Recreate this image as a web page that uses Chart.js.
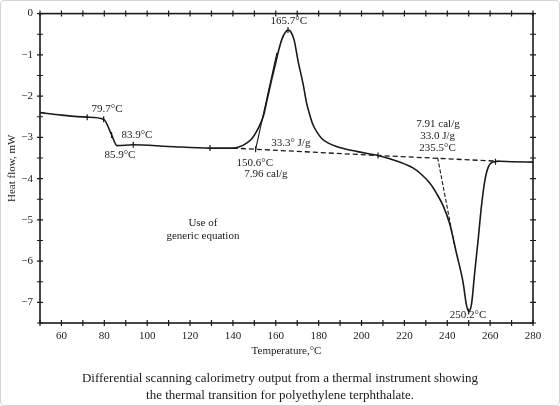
<!DOCTYPE html>
<html lang="en">
<head>
  <meta charset="UTF-8">
  <title>DSC output</title>
  <script src="https://cdn.jsdelivr.net/npm/chart.js"></script>
  <style>
    body {
      margin: 0;
      background: #fff;
    }
    .wrap {
      position: relative;
      width: 560px;
      height: 406px;
    }
    .frame {
      position: absolute;
      left: 0; top: 0;
      width: 558px; height: 404px;
      border: 1px solid #d4d4d4;
      border-radius: 4px;
      pointer-events: none;
    }
    canvas {
      position: absolute;
      left: 0; top: 0;
    }
    .caption {
      position: absolute;
      left: 0; width: 560px;
      top: 369px;
      text-align: center;
      font-family: "Liberation Serif", "DejaVu Serif", serif;
      font-size: 13px;
      line-height: 17px;
      color: #1a1a1a;
    }
  </style>
</head>
<body>
  <div class="wrap">
    <canvas id="chart" width="560" height="406"></canvas>
    <div class="caption">
      Differential scanning calorimetry output from a thermal instrument showing<br>
      the thermal transition for polyethylene terphthalate.
    </div>
    <div class="frame"></div>
  </div>

  <script>
    // DSC trace: temperature (°C) vs heat flow (mW)
    const curveT = [50, 60, 72, 79.7, 83.4, 85.9, 93.5, 110, 129.3, 140, 143, 146.4, 149, 151, 153, 154.4,
      156, 158, 160.3, 161.5, 163, 164.5, 165.7, 167, 168.6, 170.4, 172.8, 174.3, 176, 177.4, 179.3, 181.3,
      184.5, 188.3, 197.6, 207.7, 217.8, 224, 228, 232, 235, 238, 241.1, 244.3, 247.4, 248.9,
      250.0, 251.3, 252.8, 254.4, 255.9, 257.5, 259.0, 261.3, 264.5, 270, 280];
    const curveHF = [-2.40, -2.46, -2.51, -2.56, -2.94, -3.20, -3.18, -3.22, -3.26, -3.26, -3.23, -3.14,
      -3.02, -2.86, -2.65, -2.45, -2.08, -1.62, -1.12, -0.86, -0.60, -0.45, -0.40, -0.44, -0.65, -1.15,
      -1.72, -2.15, -2.48, -2.70, -2.88, -3.02, -3.14, -3.22, -3.34, -3.44, -3.60, -3.74, -3.90, -4.12,
      -4.36, -4.65, -5.09, -5.81, -6.52, -7.05, -7.22, -7.05, -6.28, -5.49, -4.69, -4.06, -3.74, -3.60,
      -3.58, -3.59, -3.60];

    // dashed baseline under both transitions
    const baseT = [140, 207.7, 264.5];
    const baseHF = [-3.26, -3.44, -3.58];

    // onset tangents
    const tan1T = [150.6, 160.5];
    const tan1HF = [-3.29, -0.95];
    const tan2T = [235.5, 243.5];
    const tan2HF = [-3.49, -5.65];

    // little marks on the trace
    const markT = [72, 79.7, 83.4, 93.5, 129.3, 150.6, 165.7, 207.7, 250.0, 262.5];
    const markHF = [-2.51, -2.56, -2.94, -3.18, -3.26, -3.29, -0.40, -3.44, -7.22, -3.59];

    // annotations
    const noteText = ['165.7°C', '79.7°C', '83.9°C', '85.9°C', '33.3° J/g', '150.6°C', '7.96 cal/g',
      '7.91 cal/g', '33.0 J/g', '235.5°C', 'Use of', 'generic equation', '250.2°C'];
    const noteT = [166.1, 81.3, 95.2, 87.3, 167.0, 150.2, 155.4, 235.7, 235.5, 235.5, 126.0, 126.0, 249.7];
    const noteHF = [-0.17, -2.31, -2.94, -3.42, -3.15, -3.63, -3.89, -2.67, -2.98, -3.27, -5.08, -5.39, -7.32];

    const xTicks = [60, 80, 100, 120, 140, 160, 180, 200, 220, 240, 260, 280];
    const yTicks = [0, -1, -2, -3, -4, -5, -6, -7];

    const ink = '#1a1a1a';
    const serif = '"Liberation Serif", "DejaVu Serif", serif';
    const pts = (xs, ys) => xs.map((x, i) => ({ x: x, y: ys[i] }));

    // frame with ticks crossing all four sides
    const frameTicks = {
      id: 'frameTicks',
      afterDraw(chart) {
        const { ctx, chartArea: a, scales: { x, y } } = chart;
        ctx.save();
        ctx.strokeStyle = ink;
        ctx.lineWidth = 1.6;
        ctx.strokeRect(a.left, a.top, a.right - a.left, a.bottom - a.top);
        ctx.lineWidth = 1.2;
        ctx.beginPath();
        for (let v = 50; v <= 280; v += 10) {
          const px = x.getPixelForValue(v);
          ctx.moveTo(px, a.bottom - 3); ctx.lineTo(px, a.bottom + 3);
          ctx.moveTo(px, a.top - 3); ctx.lineTo(px, a.top + 3);
        }
        for (let v = 0; v >= -7.5; v -= 0.5) {
          const py = y.getPixelForValue(v);
          ctx.moveTo(a.left - 3, py); ctx.lineTo(a.left + 3, py);
          ctx.moveTo(a.right - 3, py); ctx.lineTo(a.right + 3, py);
        }
        ctx.stroke();
        ctx.restore();
      }
    };

    const notes = {
      id: 'notes',
      afterDatasetsDraw(chart) {
        const { ctx, scales: { x, y } } = chart;
        ctx.save();
        ctx.fillStyle = ink;
        ctx.font = '11px ' + serif;
        ctx.textAlign = 'center';
        ctx.textBaseline = 'middle';
        noteText.forEach((t, i) => {
          ctx.fillText(t, x.getPixelForValue(noteT[i]), y.getPixelForValue(noteHF[i]));
        });
        ctx.restore();
      }
    };

    new Chart(document.getElementById('chart'), {
      type: 'line',
      data: {
        datasets: [
          {
            data: pts(curveT, curveHF),
            borderColor: ink,
            borderWidth: 1.6,
            pointRadius: 0,
            cubicInterpolationMode: 'monotone'
          },
          {
            data: pts(baseT, baseHF),
            borderColor: ink,
            borderWidth: 1.3,
            borderDash: [5, 3],
            pointRadius: 0
          },
          {
            data: pts(tan1T, tan1HF),
            borderColor: ink,
            borderWidth: 1.1,
            pointRadius: 0
          },
          {
            data: pts(tan2T, tan2HF),
            borderColor: ink,
            borderWidth: 1.1,
            borderDash: [4, 2],
            pointRadius: 0
          },
          {
            data: pts(markT, markHF),
            showLine: false,
            pointStyle: 'line',
            rotation: 90,
            pointRadius: 3,
            pointBorderWidth: 1.2,
            pointBorderColor: ink
          }
        ]
      },
      options: {
        responsive: false,
        devicePixelRatio: 1,
        animation: false,
        layout: { padding: { left: 0, top: 10, right: 27, bottom: 43 } },
        plugins: {
          legend: { display: false },
          tooltip: { enabled: false }
        },
        scales: {
          x: {
            type: 'linear',
            min: 50,
            max: 280,
            afterFit(s) { s.height = 40; },
            afterBuildTicks(s) { s.ticks = xTicks.map(v => ({ value: v })); },
            grid: { display: false, drawTicks: false, tickLength: 0 },
            border: { display: false },
            ticks: {
              autoSkip: false,
              padding: 7,
              color: ink,
              font: { family: serif, size: 11 },
              maxRotation: 0
            },
            title: {
              display: true,
              text: 'Temperature,°C',
              color: ink,
              font: { family: serif, size: 11 },
              padding: { top: 0, bottom: 5 }
            }
          },
          y: {
            type: 'linear',
            min: -7.5,
            max: 0,
            afterFit(s) { s.width = 40; },
            afterBuildTicks(s) { s.ticks = yTicks.map(v => ({ value: v })); },
            grid: { display: false, drawTicks: false, tickLength: 0 },
            border: { display: false },
            ticks: {
              autoSkip: false,
              padding: 7,
              color: ink,
              font: { family: serif, size: 11 },
              callback: v => v === 0 ? '0' : '−' + Math.abs(v)
            },
            title: {
              display: true,
              text: 'Heat flow, mW',
              color: ink,
              font: { family: serif, size: 11 },
              padding: { top: 6, bottom: 0 }
            }
          }
        }
      },
      plugins: [frameTicks, notes]
    });
  </script>
</body>
</html>
